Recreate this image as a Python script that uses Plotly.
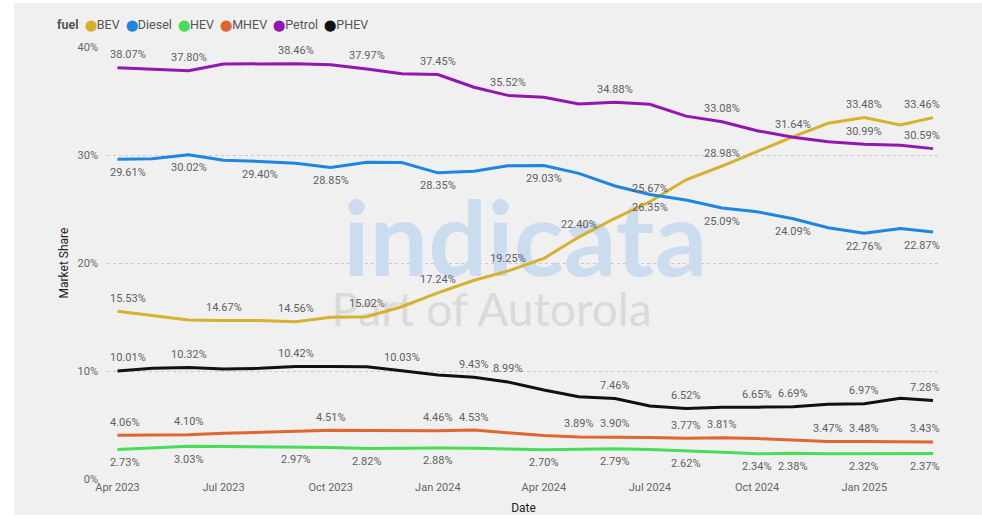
import pandas as pd
import plotly.graph_objects as go

# Monthly market share by fuel type (%), Apr 2023 - Mar 2025
dates = pd.date_range("2023-04-01", periods=24, freq="MS")

bev = [15.53, 15.10, 14.72, 14.67, 14.68, 14.56, 14.98, 15.02, 15.95, 17.24, 18.40, 19.25,
       20.43, 22.40, 24.14, 25.67, 27.70, 28.98, 30.30, 31.70, 32.94, 33.48, 32.78, 33.46]
diesel = [29.61, 29.65, 30.02, 29.52, 29.40, 29.23, 28.85, 29.32, 29.30, 28.35, 28.50, 29.00,
          29.03, 28.30, 27.13, 26.35, 25.83, 25.09, 24.75, 24.09, 23.27, 22.76, 23.20, 22.87]
hev = [2.73, 2.90, 3.03, 3.02, 3.00, 2.97, 2.92, 2.82, 2.85, 2.88, 2.84, 2.75,
       2.70, 2.75, 2.79, 2.72, 2.62, 2.48, 2.34, 2.38, 2.33, 2.32, 2.33, 2.37]
mhev = [4.06, 4.08, 4.10, 4.23, 4.32, 4.38, 4.51, 4.50, 4.49, 4.46, 4.53, 4.29,
        4.02, 3.89, 3.90, 3.85, 3.77, 3.81, 3.74, 3.60, 3.47, 3.48, 3.45, 3.43]
petrol = [38.07, 37.93, 37.80, 38.42, 38.44, 38.46, 38.36, 37.97, 37.52, 37.45, 36.27, 35.52,
          35.34, 34.72, 34.88, 34.70, 33.60, 33.08, 32.25, 31.64, 31.23, 30.99, 30.90, 30.59]
phev = [10.01, 10.25, 10.32, 10.18, 10.25, 10.42, 10.42, 10.40, 10.03, 9.63, 9.43, 8.99,
        8.24, 7.62, 7.46, 6.76, 6.52, 6.64, 6.65, 6.69, 6.92, 6.97, 7.47, 7.28]

y_ticks = [0, 10, 20, 30, 40]

# which months carry a data label in the original, and whether above (+1) or below (-1)
label_idx = {
    "BEV": ([0, 3, 5, 7, 9, 11, 13, 15, 17, 21, 23], 1),
    "Diesel": ([0, 2, 4, 6, 9, 12, 15, 17, 19, 21, 23], -1),
    "HEV": ([0, 2, 5, 7, 9, 12, 14, 16, 18, 19, 21, 23], -1),
    "MHEV": ([0, 2, 6, 9, 10, 13, 14, 16, 17, 20, 21, 23], 1),
    "Petrol": ([0, 2, 5, 7, 9, 11, 14, 17, 19, 21, 23], 1),
    "PHEV": ([0, 2, 5, 8, 10, 11, 14, 16, 18, 19, 21, 23], 1),
}

names = ["BEV", "Diesel", "HEV", "MHEV", "Petrol", "PHEV"]
series = [bev, diesel, hev, mhev, petrol, phev]
colors = ["#D6B12E", "#1E85E3", "#45DE55", "#E0652E", "#9416B0", "#111111"]

FONT = "Segoe UI, Roboto, sans-serif"

traces = []
# watermark sits underneath the lines
traces.append(go.Scatter(
    x=[pd.Timestamp("2024-03-16")], y=[21.2], mode="text", text=["<b>indicata</b>"],
    textfont=dict(family="Lato", size=104, color="#cbdcef"),
    hoverinfo="skip", showlegend=False,
))
traces.append(go.Scatter(
    x=[pd.Timestamp("2024-02-16")], y=[15.2], mode="text", text=["Part of Autorola"],
    textfont=dict(family="Lato", size=46, color="#dadada"),
    hoverinfo="skip", showlegend=False,
))

for name, vals, col in zip(names, series, colors):
    traces.append(go.Scatter(
        x=dates, y=vals, name=name, mode="lines",
        line=dict(color=col, width=3),
        showlegend=False, hoverinfo="skip",
    ))

annotations = []
for name, vals in zip(names, series):
    idx, side = label_idx[name]
    for i in idx:
        a = dict(
            x=dates[i], y=vals[i], text=f"{vals[i]:.2f}%", showarrow=False,
            yshift=13 * side, font=dict(family=FONT, size=11, color="#5f5f5f"),
        )
        if i == 0:
            a.update(xanchor="left", xshift=-9)
        elif i == len(vals) - 1:
            a.update(xanchor="right", xshift=9)
        annotations.append(a)

# legend built as one line of text with coloured dots
legend_txt = "<b>fuel</b>  " + "  ".join(
    f"<span style='color:{c};font-size:11px'>⬤</span>{n}" for n, c in zip(names, colors)
)
annotations.append(dict(
    x=-0.062, y=1.051, xref="paper", yref="paper", xanchor="left", yanchor="middle",
    text=legend_txt, showarrow=False, font=dict(family=FONT, size=12.5, color="#555555"),
))

L, R, T, B = 107, 42, 47, 44
W, H = 982, 523
pw, ph = W - L - R, H - T - B

layout = go.Layout(
    width=W, height=H,
    margin=dict(l=L, r=R, t=T, b=B, autoexpand=False),
    paper_bgcolor="white",
    plot_bgcolor="rgba(0,0,0,0)",
    font=dict(family=FONT, size=11, color="#666666"),
    annotations=annotations,
    shapes=[dict(
        type="rect", xref="paper", yref="paper", layer="below",
        x0=(14 - L) / pw, x1=(W - L) / pw,
        y0=(T + ph - 515) / ph, y1=(T + ph - 3) / ph,
        fillcolor="#f0f0f0", line=dict(width=0),
    )],
)

fig = go.Figure(data=traces, layout=layout)

fig.update_xaxes(
    automargin=False,
    range=["2023-03-23", "2025-03-07"],
    tick0="2023-04-01", dtick="M3", tickformat="%b %Y",
    showgrid=False, zeroline=False, showline=False, ticks="",
    tickfont=dict(size=11, color="#666666"),
    title=dict(text="Date", font=dict(size=12, color="#252423"), standoff=10),
)
fig.update_yaxes(
    automargin=False,
    range=[0, 40], tickmode="array", tickvals=y_ticks,
    ticktext=[f"{v}%" for v in y_ticks],
    showgrid=True, gridcolor="#c8c8c8", griddash="dot", gridwidth=1,
    zeroline=False, showline=False, ticks="", ticklabelstandoff=8,
    tickfont=dict(size=11, color="#666666"),
    title=dict(text="Market Share", font=dict(size=12, color="#252423"), standoff=6),
)

# drop the default 8px page margin so the figure sits at the window's corner
fig.write_html(
    "out.html",
    config={"displayModeBar": False},
    post_script="document.body.style.margin='0';",
)
